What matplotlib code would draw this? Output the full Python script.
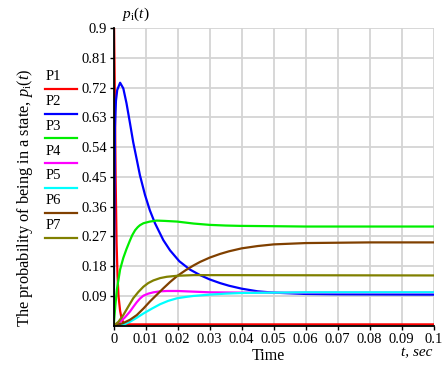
import matplotlib
matplotlib.use("Agg")
import matplotlib.pyplot as plt
from matplotlib.lines import Line2D

plt.rcParams['font.family'] = ['Liberation Serif', 'DejaVu Serif']
plt.rcParams['mathtext.fontset'] = 'custom'
plt.rcParams['mathtext.rm'] = 'Liberation Serif'
plt.rcParams['mathtext.it'] = 'Liberation Serif:italic'

# ---- data ----
t_p1 = [0, 0.0003, 0.0006, 0.0009, 0.0012, 0.0015, 0.002, 0.0025, 0.003, 0.0035, 0.005, 0.1]
p1 = [1.0, 0.75, 0.45, 0.25, 0.15, 0.09, 0.045, 0.02, 0.01, 0.006, 0.004, 0.004]

t_p2 = [0, 0.0004, 0.0007, 0.0011, 0.002, 0.003, 0.004, 0.0051, 0.0061, 0.0072, 0.0082,
        0.0098, 0.0113, 0.0129, 0.0155, 0.0176, 0.0205, 0.0238, 0.027, 0.03, 0.0332,
        0.036, 0.04, 0.045, 0.05, 0.06, 0.07, 0.1]
p2 = [0, 0.60, 0.68, 0.713, 0.735, 0.718, 0.673, 0.612, 0.555, 0.503, 0.455,
      0.395, 0.349, 0.31, 0.259, 0.228, 0.195, 0.17, 0.153, 0.14, 0.129,
      0.121, 0.112, 0.104, 0.1, 0.096, 0.095, 0.094]

t_p3 = [0, 0.0005, 0.001, 0.002, 0.003, 0.004, 0.005, 0.0058, 0.0067, 0.0075, 0.0082,
        0.0093, 0.0113, 0.0134, 0.016, 0.0198, 0.025, 0.03, 0.035, 0.0394, 0.05, 0.06, 0.1]
p3 = [0, 0.06, 0.11, 0.17, 0.205, 0.232, 0.256, 0.274, 0.289, 0.298, 0.304,
      0.31, 0.315, 0.318, 0.317, 0.315, 0.309, 0.305, 0.303, 0.302, 0.301, 0.30, 0.30]

t_p4 = [0, 0.002, 0.0035, 0.0051, 0.0062, 0.0072, 0.0082, 0.0093, 0.0108, 0.0124,
        0.0145, 0.0166, 0.02, 0.025, 0.03, 0.04, 0.05, 0.1]
p4 = [0, 0.012, 0.025, 0.043, 0.058, 0.071, 0.082, 0.091, 0.097, 0.101,
      0.104, 0.105, 0.105, 0.103, 0.101, 0.1, 0.1, 0.1]

t_p5 = [0, 0.003, 0.0051, 0.0072, 0.0093, 0.012, 0.0145, 0.017, 0.0198, 0.0225, 0.0249,
        0.03, 0.035, 0.04, 0.05, 0.06, 0.1]
p5 = [0, 0.003, 0.012, 0.024, 0.037, 0.052, 0.065, 0.075, 0.083, 0.087, 0.09,
      0.094, 0.097, 0.099, 0.1, 0.101, 0.101]

t_p6 = [0, 0.003, 0.0051, 0.0072, 0.0093, 0.0113, 0.0134, 0.0155, 0.0176, 0.0198,
        0.0225, 0.0249, 0.027, 0.03, 0.0332, 0.036, 0.04, 0.045, 0.05, 0.06, 0.07, 0.08, 0.1]
p6 = [0, 0.008, 0.018, 0.032, 0.052, 0.073, 0.093, 0.113, 0.132, 0.15,
      0.168, 0.182, 0.193, 0.206, 0.217, 0.225, 0.234, 0.241, 0.246, 0.25, 0.251, 0.252, 0.252]

t_p7 = [0, 0.0015, 0.003, 0.0045, 0.0061, 0.0077, 0.0093, 0.0108, 0.0124, 0.0145,
        0.0166, 0.0198, 0.025, 0.03, 0.1]
p7 = [0, 0.012, 0.032, 0.057, 0.083, 0.102, 0.118, 0.129, 0.137, 0.144,
      0.148, 0.151, 0.153, 0.153, 0.152]

series_names = ["P1", "P2", "P3", "P4", "P5", "P6", "P7"]
series_t = [t_p1, t_p2, t_p3, t_p4, t_p5, t_p6, t_p7]
series_p = [p1, p2, p3, p4, p5, p6, p7]
colors = ["#ff0000", "#0000ff", "#00ee00", "#ff00ff", "#00ffff", "#804000", "#808000"]

xticks = [0, 0.01, 0.02, 0.03, 0.04, 0.05, 0.06, 0.07, 0.08, 0.09, 0.1]
xticklabels = ["0", "0.01", "0.02", "0.03", "0.04", "0.05", "0.06", "0.07", "0.08", "0.09", "0.1"]
yticks = [0.09, 0.18, 0.27, 0.36, 0.45, 0.54, 0.63, 0.72, 0.81, 0.9]
yticklabels = ["0.09", "0.18", "0.27", "0.36", "0.45", "0.54", "0.63", "0.72", "0.81", "0.9"]

# ---- figure ----
W, H = 448, 365
fig = plt.figure(figsize=(W / 100, H / 100), dpi=100)
ax = fig.add_axes([113.7 / W, 1 - 325.7 / H, 320 / W, (325.7 - 28.2) / H])

for x in xticks:
    ax.axvline(x, color="#d4d4d4", lw=1.3, zorder=0)
for y in yticks:
    ax.axhline(y, color="#d4d4d4", lw=1.3, zorder=0)

for tt, pp, c in zip(series_t, series_p, colors):
    ax.plot(tt, pp, color=c, lw=1.6, zorder=2, solid_joinstyle="round")

ax.set_xlim(0, 0.1)
ax.set_ylim(0, 0.9)
ax.set_xticks(xticks)
ax.set_xticklabels(xticklabels)
ax.set_yticks(yticks)
ax.set_yticklabels(yticklabels)
ax.tick_params(axis="both", direction="out", length=3, width=1, labelsize=10.5, pad=2,
               colors="black")
for s in ["top", "right"]:
    ax.spines[s].set_visible(False)
for s in ["left", "bottom"]:
    ax.spines[s].set_linewidth(1.3)
    ax.spines[s].set_zorder(3)

# axis texts
fig.text(268 / W, 1 - 356 / H, "Time", ha="center", va="center", fontsize=11.5)
fig.text(432 / W, 1 - 353 / H, "t, sec", ha="right", va="center", fontsize=11,
         style="italic")
fig.text(136 / W, 1 - 14 / H, r"$p_{\mathrm{i}}(t)$", ha="center", va="center", fontsize=11)
fig.text(25 / W, 1 - 198 / H,
         r"The probability of being in a state, $p_{\mathrm{i}}(t)$",
         ha="center", va="center", rotation=90, fontsize=11.8)

# legend: label above a short line segment
for i, (name, c) in enumerate(zip(series_names, colors)):
    yl = 88.7 + i * 24.8
    fig.add_artist(Line2D([45 / W, 77 / W], [1 - yl / H, 1 - yl / H], color=c, lw=1.6,
                          transform=fig.transFigure))
    fig.text(46 / W, 1 - (yl - 12) / H, name, ha="left", va="center", fontsize=10.5)

fig.savefig("out.png", dpi=100)
